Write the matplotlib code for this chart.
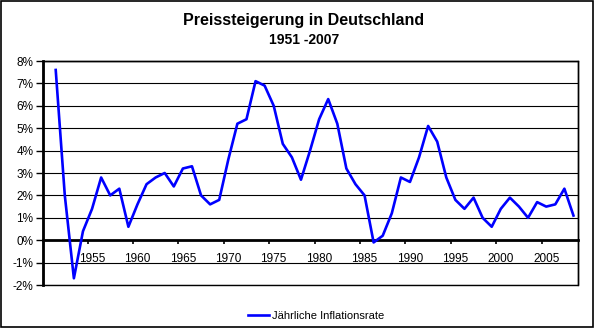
import matplotlib
matplotlib.use('Agg')
import matplotlib.pyplot as plt
import matplotlib.patches as patches
from matplotlib.transforms import ScaledTranslation
from matplotlib.ticker import FuncFormatter

years = list(range(1951, 2009))
rate = [7.6, 2.0, -1.7, 0.4, 1.4, 2.8, 2.0, 2.3, 0.6, 1.6,
        2.5, 2.8, 3.0, 2.4, 3.2, 3.3, 2.0, 1.6, 1.8, 3.6,
        5.2, 5.4, 7.1, 6.9, 6.0, 4.3, 3.7, 2.7, 4.0, 5.4,
        6.3, 5.2, 3.2, 2.5, 2.0, -0.1, 0.2, 1.2, 2.8, 2.6,
        3.7, 5.1, 4.4, 2.8, 1.8, 1.4, 1.9, 1.0, 0.6, 1.4,
        1.9, 1.5, 1.0, 1.7, 1.5, 1.6, 2.3, 1.1]
tick_years = [1955, 1960, 1965, 1970, 1975, 1980, 1985, 1990, 1995, 2000, 2005]
title = 'Preissteigerung in Deutschland'
subtitle = '1951 -2007'
label = 'Jährliche Inflationsrate'

plt.rcParams['font.family'] = ['Liberation Sans', 'DejaVu Sans']

fig = plt.figure(figsize=(5.95, 3.28), dpi=100)
ax = fig.add_axes([43 / 595, 1 - 285 / 328, 535 / 595, 224 / 328])

# points sit in the middle of each year slot
xpos = [y + 0.5 for y in years]
line, = ax.plot(xpos, rate, color='#0000FF', lw=1.9, label=label, clip_on=False, zorder=3)

ax.set_xlim(1950.1, 2009)
ax.set_ylim(-2, 8)
ax.set_yticks(range(-2, 9))
ax.yaxis.set_major_formatter(FuncFormatter(lambda v, p: f'{int(v)}%'))
ax.set_xticks(tick_years)

ax.grid(axis='y', color='black', lw=0.8)
ax.set_axisbelow(True)

ax.spines['bottom'].set_position(('data', 0))
ax.spines['bottom'].set_linewidth(2)
ax.spines['left'].set_linewidth(2)
ax.spines['top'].set_linewidth(1.0)
ax.spines['right'].set_linewidth(1.0)

# plot-area frame drawn explicitly (top, right, bottom)
frame = patches.Rectangle((0, 0), 1, 1, transform=ax.transAxes, fill=False,
                          edgecolor='black', lw=1.0, clip_on=False, zorder=2)
ax.add_patch(frame)

ax.tick_params(axis='y', direction='out', length=5, width=1, pad=2, labelsize=8.5)
ax.tick_params(axis='x', direction='out', length=3, width=1.2, pad=6, labelsize=8.5)
for t in ax.get_xticklabels():
    t.set_transform(t.get_transform() + ScaledTranslation(4.5 / 100, 0, fig.dpi_scale_trans))

fig.text(304 / 595, 1 - 25 / 328, title, ha='center', va='baseline',
         fontsize=11.5, fontweight='bold')
fig.text(304 / 595, 1 - 44 / 328, subtitle, ha='center', va='baseline',
         fontsize=10, fontweight='bold')

fig.legend(handles=[line], loc='center', bbox_to_anchor=(316 / 595, 1 - 316 / 328),
           frameon=False, fontsize=8, handlelength=1.9, handletextpad=0.2,
           borderpad=0, borderaxespad=0)

fig.patches.append(patches.Rectangle((0.001, 0.002), 0.996, 0.995, transform=fig.transFigure,
                                     fill=False, edgecolor='black', lw=1.2))

fig.savefig('out.png', dpi=100)
